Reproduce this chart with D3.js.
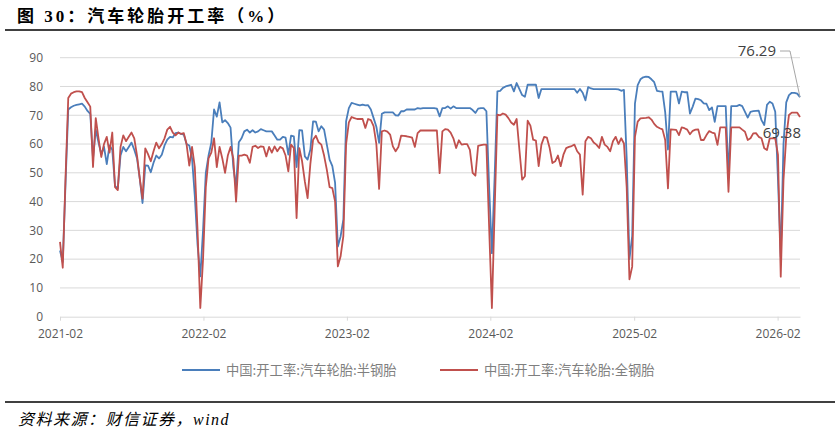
<!DOCTYPE html>
<html>
<head>
<meta charset="utf-8">
<script src="https://cdn.jsdelivr.net/npm/d3@7"></script>
<style>
body { margin: 0; background: #fff; }
svg { display: block; }
</style>
</head>
<body>
<svg id="chart" width="840" height="434"></svg>
<script>
// weekly data, first week 2021-02-04
var start_date = "2021-02-04";

var series_names = ["中国:开工率:汽车轮胎:半钢胎", "中国:开工率:汽车轮胎:全钢胎"];
var series_colors = ["#4a7ebb", "#c0504d"];

var semi_steel = [
    23, 19, 46, 72, 72.8, 73.3, 73.6, 73.8, 74, 73,
    71.5, 70.5, 55, 65, 60.5, 56.5, 59, 53, 59.5, 58,
    45.5, 44.5, 56, 59, 57.5, 59, 60.5, 58, 55, 48,
    39.5, 52.6, 52.5, 50.2, 53.5, 56, 55, 56.3, 59.5, 61.5,
    62.5, 62.3, 63.8, 64, 63.5, 63.3, 60, 59.5, 55, 42,
    25, 14, 30, 50, 56, 60.5, 72, 69.5, 74.5, 67.5,
    68.3, 67.3, 65.7, 52, 45, 60.6, 62, 64.4, 65, 64,
    64.8, 64, 64.4, 65.2, 64.8, 64.4, 64.4, 64.4, 63, 61.5,
    61.5, 62.5, 62.2, 56.3, 62.9, 62.7, 52, 64.8, 64.7, 55.7,
    54.6, 58, 67.9, 67.8, 64.4, 66.2, 65, 59.8, 54.6, 52.3,
    46.5, 24.4, 27.9, 33.7, 67.9, 72.5, 74.3, 74, 73.7, 73.4,
    73.7, 73.4, 73.5, 72, 69, 66, 60.4, 70.5, 71, 71,
    71, 71, 70, 69.9, 71.4, 71.4, 72, 72, 72, 72,
    72.5, 72.3, 72.5, 72.5, 72.5, 72.5, 72.5, 72.3, 69.6, 72.5,
    72.5, 73.1, 72.3, 73.1, 72.5, 72.5, 72.5, 72.5, 72.5, 72.5,
    71.8, 70.8, 72.3, 72.5, 72.5, 71.4, 45, 22.1, 48.8, 78.3,
    78.5, 79.5, 80, 80.3, 80.6, 78.3, 81.2, 79.1, 77, 76.4,
    80.6, 80.6, 80.6, 80.6, 76, 79.1, 79.1, 79.1, 79.1, 79.1,
    79.1, 79.1, 79.1, 79.1, 79.1, 79.1, 79.1, 79.1, 77.8, 79.1,
    77.8, 75.2, 79.8, 79.3, 79.1, 79.1, 79.1, 79.1, 79.1, 79.1,
    79.1, 79.1, 79.1, 79, 78.5, 78.8, 55, 20, 28, 74,
    80.5, 82.5, 83.2, 83.4, 83.3, 82.5, 81.5, 78.5, 78.3, 78.2,
    71, 58.1, 78.2, 78.2, 78.2, 74.1, 78.2, 78, 78, 70.6,
    73, 75.8, 75.6, 75.2, 74.1, 74, 71.8, 72.7, 67.7, 73.2,
    73.2, 73.2, 73.2, 48.6, 73.2, 73.2, 73.2, 73.6, 73.2, 71.2,
    69.2, 71.2, 71.4, 71.5, 71.6, 68.3, 66.6, 73.6, 74.7, 74.1,
    71.2, 47.5, 20.8, 60, 74.5, 77, 77.8, 77.8, 77.5, 76.29
];

var all_steel = [
    26, 17, 48, 76, 77.5, 78, 78.3, 78.3, 78, 76,
    74.5, 73, 52, 69, 62, 55.5, 60, 62.5, 57, 64,
    45, 44, 59, 63, 61, 62.5, 64, 62, 56, 48,
    41, 58.5, 56.5, 54, 57.5, 60.5, 58.5, 60, 62, 65,
    66, 64, 63, 64, 63.5, 63.8, 60, 52.5, 59, 52,
    30, 3, 20, 45, 55, 57, 62, 52, 59, 55,
    50, 56, 59, 55, 40, 56, 56, 56.3, 56, 53.5,
    59, 59.4, 58.6, 59.2, 59, 55.7, 59, 57, 59.2, 57.5,
    59, 58.5, 56, 50.5, 59.8, 58.6, 34.3, 58.6, 54, 47,
    41.2, 53, 61.5, 62.9, 60.6, 59.8, 56, 51, 45, 44.7,
    40, 17.5, 21, 28, 60, 67.5, 69.4, 69, 68.7, 68.7,
    68.7, 65.6, 68.7, 68.3, 66.2, 60, 44.4, 64.4, 64.7, 64.3,
    63.3, 59.2, 57.5, 59, 62.9, 62.8, 62.7, 62.5, 62.2, 59,
    63.8, 64.7, 64.7, 64.7, 64.7, 64.7, 64.7, 64.7, 49.9, 64.4,
    65.2, 65, 64, 62, 58.6, 61.3, 59.8, 60, 60, 58,
    50, 49, 59.4, 59.6, 59.8, 59.8, 31, 3, 37, 70.2,
    70, 70.6, 70.2, 69, 67.5, 66.7, 68.7, 58, 47.6, 48.8,
    68.1, 66.4, 61.5, 61.2, 52.3, 59.8, 62.5, 62.2, 58.6, 53.4,
    54, 56, 52.3, 56.3, 58.6, 59, 59.3, 59.8, 57.5, 56.3,
    42.4, 61, 62.5, 62, 60.5, 59.8, 58.6, 62.5, 59.8, 59,
    57.5, 61, 62.5, 60, 62, 60.2, 45, 13, 17.4, 62.5,
    67.8, 68.9, 69, 69.1, 69.3, 68.5, 67, 66, 65.5, 65.1,
    61.4, 44.6, 65.1, 65, 64.9, 63.1, 65.8, 65.5, 65, 63.4,
    64.6, 65, 65.1, 61.4, 61.4, 63.1, 64.5, 64, 63.7, 59.7,
    65.8, 65.8, 65.8, 43.4, 65.8, 65.8, 65.8, 65.8, 65, 64.3,
    61.4, 62, 63.7, 63.8, 62.5, 62, 58.5, 57.9, 62, 62,
    62, 56.2, 13.9, 47.5, 62.5, 70.1, 70.9, 70.9, 70.9, 69.38
];

var y_ticks = [0, 10, 20, 30, 40, 50, 60, 70, 80, 90];
var x_tick_labels = ["2021-02", "2022-02", "2023-02", "2024-02", "2025-02", "2026-02"];

var svg = d3.select("#chart");
var parse = d3.timeParse("%Y-%m-%d");
var first = parse(start_date);

function week_date(i) {
    return d3.timeDay.offset(first, i * 7);
}

var last = week_date(semi_steel.length - 1);

var x = d3.scaleTime().domain([first, last]).range([60, 800]);
var y = d3.scaleLinear().domain([0, 90]).range([316.7, 57.7]);

// background
svg.append("rect").attr("width", 840).attr("height", 434).attr("fill", "#fff");

// title
svg.append("text")
    .attr("x", 17)
    .attr("y", 22)
    .attr("font-family", "'Liberation Serif', 'Noto Sans CJK SC', serif")
    .attr("font-weight", "bold")
    .attr("font-size", 17)
    .attr("letter-spacing", 3)
    .attr("fill", "#000")
    .text("图 30：汽车轮胎开工率（%）");

svg.append("line")
    .attr("x1", 5).attr("x2", 835)
    .attr("y1", 30).attr("y2", 30)
    .attr("stroke", "#000").attr("stroke-width", 1.6);

// grid
svg.append("g").selectAll("line")
    .data(y_ticks.slice(1))
    .enter()
    .append("line")
    .attr("x1", 60).attr("x2", 800)
    .attr("y1", function(d) { return y(d); })
    .attr("y2", function(d) { return y(d); })
    .attr("stroke", "#d9d9d9")
    .attr("stroke-width", 1);

// y axis labels
var y_axis = d3.axisLeft(y).tickValues(y_ticks).tickSize(0).tickPadding(17);
var gy = svg.append("g").attr("transform", "translate(60,0)").call(y_axis);
gy.select(".domain").remove();
gy.selectAll("text")
    .attr("fill", "#595959")
    .attr("font-size", 12)
    .attr("font-family", "'Open Sans', 'Noto Sans', sans-serif");

// x axis
var x_ticks = x_tick_labels.map(function(s) { return d3.timeYear.offset(first, +s.slice(0, 4) - 2021); });
var x_axis = d3.axisBottom(x)
    .tickValues(x_ticks)
    .tickSize(4)
    .tickSizeOuter(0)
    .tickPadding(9)
    .tickFormat(function(d, i) { return x_tick_labels[i]; });
var gx = svg.append("g").attr("transform", "translate(0," + y(0) + ")").call(x_axis);
gx.select(".domain").attr("stroke", "#d9d9d9");
gx.selectAll(".tick line").attr("stroke", "#d9d9d9");
gx.selectAll("text")
    .attr("fill", "#595959")
    .attr("font-size", 12)
    .attr("font-family", "'Open Sans', 'Noto Sans', sans-serif");

// lines
var line = d3.line()
    .x(function(d, i) { return x(week_date(i)); })
    .y(function(d) { return y(d); });

[semi_steel, all_steel].forEach(function(values, k) {
    svg.append("path")
        .datum(values)
        .attr("d", line)
        .attr("fill", "none")
        .attr("stroke", series_colors[k])
        .attr("stroke-width", 1.8)
        .attr("stroke-linejoin", "round");
});

// last value labels
var n = semi_steel.length - 1;
var lx = x(week_date(n));
svg.append("path")
    .attr("d", "M" + (lx - 20) + "," + 51 + "L" + (lx - 10) + "," + 51 + "L" + lx + "," + y(semi_steel[n]))
    .attr("fill", "none")
    .attr("stroke", "#a6a6a6")
    .attr("stroke-width", 1);
svg.append("text")
    .attr("x", lx - 24).attr("y", 56)
    .attr("text-anchor", "end")
    .attr("font-size", 15)
    .attr("font-family", "'Open Sans', 'Noto Sans', sans-serif")
    .attr("fill", "#404040")
    .text(semi_steel[n].toFixed(2));
svg.append("text")
    .attr("x", lx + 1).attr("y", 138)
    .attr("text-anchor", "end")
    .attr("font-size", 15)
    .attr("font-family", "'Open Sans', 'Noto Sans', sans-serif")
    .attr("fill", "#404040")
    .text(all_steel[n].toFixed(2));

// legend
var legend_x = [182, 440];
series_names.forEach(function(name, k) {
    svg.append("line")
        .attr("x1", legend_x[k]).attr("x2", legend_x[k] + 38)
        .attr("y1", 370).attr("y2", 370)
        .attr("stroke", series_colors[k])
        .attr("stroke-width", 2);
    svg.append("text")
        .attr("x", legend_x[k] + 44).attr("y", 375)
        .attr("font-size", 13.3)
        .attr("font-family", "'Noto Sans CJK SC', sans-serif")
        .attr("fill", "#7f7f7f")
        .text(name);
});

// source
svg.append("line")
    .attr("x1", 5).attr("x2", 835)
    .attr("y1", 402).attr("y2", 402)
    .attr("stroke", "#000").attr("stroke-width", 1.6);
svg.append("text")
    .attr("x", 18).attr("y", 425)
    .attr("font-size", 16)
    .attr("letter-spacing", 1.5)
    .attr("font-style", "italic")
    .attr("font-family", "'Liberation Serif', 'Noto Sans CJK SC', serif")
    .attr("fill", "#000")
    .text("资料来源：财信证券，wind");
</script>
</body>
</html>
